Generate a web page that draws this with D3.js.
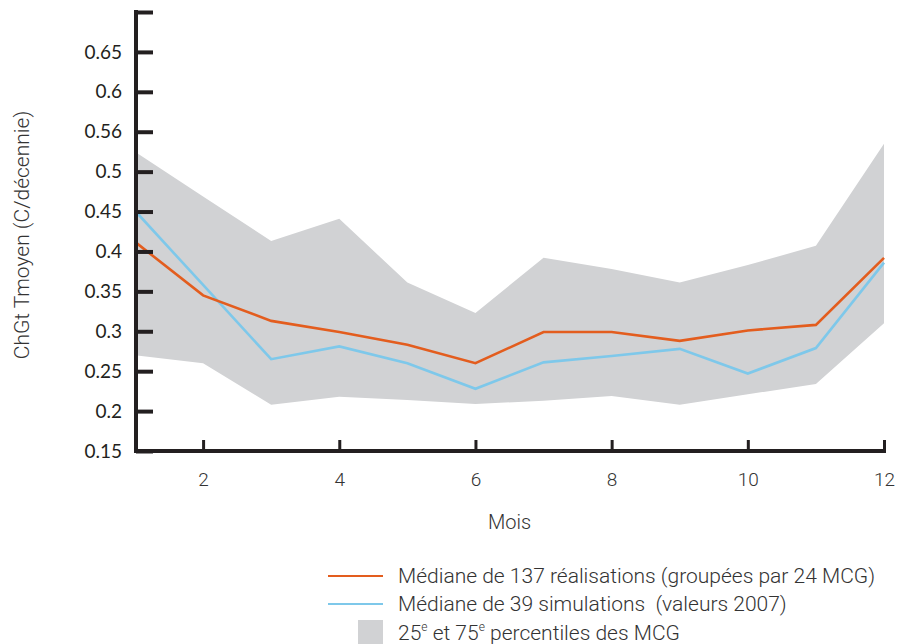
<!DOCTYPE html>
<html><head><meta charset="utf-8">
<script src="https://cdn.jsdelivr.net/npm/d3@7"></script>
<style>
body{margin:0;background:#fff;}
svg{display:block;}
</style></head>
<body>
<svg id="chart" width="897" height="644"></svg>
<script>
const months = [1,2,3,4,5,6,7,8,9,10,11,12];
const median137 = [0.412,0.345,0.313,0.299,0.283,0.260,0.299,0.299,0.288,0.301,0.308,0.392];
const median39  = [0.451,0.358,0.265,0.281,0.260,0.228,0.261,0.269,0.278,0.247,0.279,0.386];
const p75 = [0.525,0.469,0.413,0.441,0.361,0.323,0.392,0.378,0.361,0.383,0.407,0.535];
const p25 = [0.270,0.260,0.208,0.218,0.214,0.209,0.213,0.219,0.208,0.221,0.234,0.310];
const yTicks = [0.15,0.2,0.25,0.3,0.35,0.4,0.45,0.5,0.55,0.6,0.65,0.7];
const yTickLabels = ["0.15","0.2","0.25","0.3","0.35","0.4","0.45","0.5","0.56","0.6","0.65",""];
const xTicks = [2,4,6,8,10,12];
const legendLabels = ["Médiane de 137 réalisations (groupées par 24 MCG)","Médiane de 39 simulations  (valeurs 2007)"];

const svg = d3.select("#chart");
const x = d3.scaleLinear().domain([1,12]).range([135,884]);
const y = d3.scaleLinear().domain([0.15,0.7]).range([451,12]);
const axisColor = "#231f20";

// band
const area = d3.area().x((d,i)=>x(months[i])).y0((d,i)=>y(p25[i])).y1((d,i)=>y(p75[i]));
svg.append("path").datum(months).attr("d",area).attr("fill","#d1d2d4");

const line = arr => d3.line().x((d,i)=>x(months[i])).y(d=>y(d))(arr);
svg.append("path").attr("d",line(median39)).attr("fill","none").attr("stroke","#7ec8ea").attr("stroke-width",2.6);
svg.append("path").attr("d",line(median137)).attr("fill","none").attr("stroke","#e35d1e").attr("stroke-width",2.6);

// y axis
const yAxis = d3.axisRight(y).tickValues(yTicks).tickSize(17).tickFormat((d,i)=>yTickLabels[i]);
const gy = svg.append("g").attr("transform","translate(136,0)").call(yAxis);
gy.select(".domain").remove();
gy.selectAll(".tick line").attr("stroke",axisColor).attr("stroke-width",4);
gy.selectAll(".tick text").attr("x",-14).attr("text-anchor","end")
  .attr("font-family","Lato, 'Open Sans', sans-serif").attr("font-size",19).attr("fill","#231f20");
svg.append("line").attr("x1",136).attr("x2",136).attr("y1",y(0.7)-2).attr("y2",y(0.15)+2)
  .attr("stroke",axisColor).attr("stroke-width",4);

// x axis
const xAxis = d3.axisTop(x).tickValues(xTicks).tickSize(11).tickFormat(d3.format("d"));
const gx = svg.append("g").attr("transform",`translate(0,${y(0.15)})`).call(xAxis);
gx.select(".domain").remove();
gx.selectAll(".tick line").attr("stroke",axisColor).attr("stroke-width",3);
gx.selectAll(".tick text").attr("y",35).attr("dy","0")
  .attr("font-family","Roboto, sans-serif").attr("font-weight",300).attr("font-size",19).attr("fill","#333");
svg.append("line").attr("x1",134).attr("x2",886).attr("y1",y(0.15)).attr("y2",y(0.15))
  .attr("stroke",axisColor).attr("stroke-width",4);

// axis titles
svg.append("text").attr("x",x(6.5)).attr("y",529).attr("text-anchor","middle")
  .attr("font-family","Roboto, sans-serif").attr("font-weight",300).attr("font-size",20).attr("fill","#333").text("Mois");
svg.append("text").attr("transform","translate(29,235) rotate(-90)").attr("text-anchor","middle")
  .attr("font-family","Roboto, sans-serif").attr("font-weight",300).attr("font-size",21).attr("fill","#333")
  .text("ChGt Tmoyen (C/décennie)");

// legend
const lg = svg.append("g");
const lColors = ["#e35d1e","#7ec8ea"];
const lY = [576,604];
legendLabels.forEach((t,i)=>{
  lg.append("line").attr("x1",328).attr("x2",383).attr("y1",lY[i]).attr("y2",lY[i]).attr("stroke",lColors[i]).attr("stroke-width",2.2);
  lg.append("text").attr("x",398).attr("y",lY[i]+7).attr("font-family","Roboto, sans-serif").attr("font-weight",300)
    .attr("font-size",21).attr("fill","#333").style("white-space","pre").text(t);
});
lg.append("rect").attr("x",358).attr("y",620).attr("width",25).attr("height",26).attr("fill","#d1d2d4");
const t3 = lg.append("text").attr("x",398).attr("y",640).attr("font-family","Roboto, sans-serif").attr("font-weight",300)
  .attr("font-size",21).attr("fill","#333");
t3.append("tspan").text("25");
t3.append("tspan").attr("font-size",12).attr("dy",-9).text("e");
t3.append("tspan").attr("dy",9).text(" et 75");
t3.append("tspan").attr("font-size",12).attr("dy",-9).text("e");
t3.append("tspan").attr("dy",9).text(" percentiles des MCG");
</script>
</body></html>
